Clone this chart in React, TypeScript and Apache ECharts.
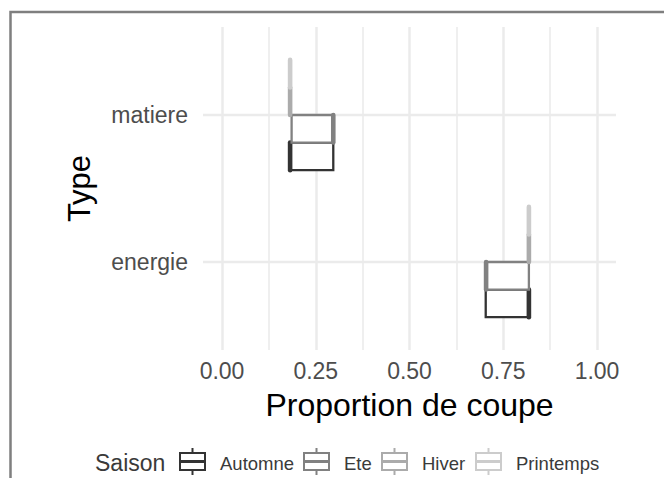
import React, { useEffect, useRef } from "react";
import * as echarts from "echarts";

const FONT = "'Liberation Sans', Arial, Helvetica, sans-serif";

// Categories
const types = ["energie", "matiere"];
const seasons = ["Automne", "Ete", "Hiver", "Printemps"];
const seasonColors = ["#333333", "#818181", "#ABABAB", "#CCCCCC"];

// Box statistics per type (energie, matiere): [min, q1, median, q3, max]
const automne = [
  [0.703, 0.703, 0.818, 0.818, 0.818],
  [0.182, 0.182, 0.182, 0.297, 0.297],
];
const ete = [
  [0.704, 0.704, 0.704, 0.818, 0.818],
  [0.186, 0.186, 0.297, 0.297, 0.297],
];
const hiver = [
  [0.818, 0.818, 0.818, 0.818, 0.818],
  [0.182, 0.182, 0.182, 0.182, 0.182],
];
const printemps = [
  [0.818, 0.818, 0.818, 0.818, 0.818],
  [0.182, 0.182, 0.182, 0.182, 0.182],
];
const seasonStats = [automne, ete, hiver, printemps];

const xTicks = [0, 0.25, 0.5, 0.75, 1];

export default function App() {
  const ref = useRef<HTMLDivElement>(null);

  useEffect(() => {
    if (!ref.current) return;
    const chart = echarts.init(ref.current, null, { renderer: "svg" });

    const boxSeries = seasons.map((name, si) => ({
      name,
      type: "custom",
      xAxisIndex: 0,
      yAxisIndex: 0,
      z: 3 + si,
      encode: { x: [1, 2, 3, 4, 5], y: 0 },
      data: seasonStats[si].map((s, ti) => [ti, ...s]),
      renderItem: (params: any, api: any) => {
        const cat = api.value(0);
        const mn = api.value(1);
        const q1 = api.value(2);
        const md = api.value(3);
        const q3 = api.value(4);
        const mx = api.value(5);
        const center = api.coord([q1, cat]);
        const band = api.size([0, 1])[1];
        const w = (band * 0.75) / 4;
        const yc = center[1] + (1.5 - si) * w;
        const px = (v: number) => api.coord([v, cat])[0];
        const color = seasonColors[si];
        const lw = 2.3;
        return {
          type: "group",
          children: [
            {
              type: "line",
              shape: { x1: px(mn), y1: yc, x2: px(q1), y2: yc },
              style: { stroke: color, lineWidth: lw },
            },
            {
              type: "line",
              shape: { x1: px(q3), y1: yc, x2: px(mx), y2: yc },
              style: { stroke: color, lineWidth: lw },
            },
            {
              type: "rect",
              shape: { x: px(q1), y: yc - w / 2, width: px(q3) - px(q1), height: w },
              style: { fill: "#ffffff", stroke: color, lineWidth: lw },
            },
            {
              type: "line",
              shape: { x1: px(md), y1: yc - w / 2, x2: px(md), y2: yc + w / 2 },
              style: { stroke: color, lineWidth: lw * 2, lineCap: "round" },
            },
          ],
        };
      },
    }));

    const gridLineSeries = {
      type: "custom",
      xAxisIndex: 0,
      yAxisIndex: 0,
      z: 1,
      silent: true,
      encode: { x: 0, y: 1 },
      data: types.map((_, i) => [0, i]),
      renderItem: (params: any, api: any) => {
        const y = api.coord([0, api.value(1)])[1];
        const cs = params.coordSys;
        return {
          type: "line",
          shape: { x1: cs.x, y1: y, x2: cs.x + cs.width, y2: y },
          style: { stroke: "#EBEBEB", lineWidth: 2.5 },
        };
      },
    };

    // Legend (graphic)
    const legendItems: any[] = [];
    const iconX = [180, 304, 382, 476];
    const textX = [220, 344, 422, 516];
    const iw = 25;
    seasons.forEach((s, i) => {
      const x0 = iconX[i];
      const c = seasonColors[i];
      legendItems.push(
        {
          type: "line",
          shape: { x1: x0 + iw / 2, y1: 448, x2: x0 + iw / 2, y2: 453 },
          style: { stroke: c, lineWidth: 2 },
        },
        {
          type: "line",
          shape: { x1: x0 + iw / 2, y1: 470, x2: x0 + iw / 2, y2: 475 },
          style: { stroke: c, lineWidth: 2 },
        },
        {
          type: "rect",
          shape: { x: x0, y: 453, width: iw, height: 17 },
          style: { fill: "#ffffff", stroke: c, lineWidth: 2 },
        },
        {
          type: "line",
          shape: { x1: x0, y1: 461.5, x2: x0 + iw, y2: 461.5 },
          style: { stroke: c, lineWidth: 3 },
        },
        {
          type: "text",
          x: textX[i],
          y: 463,
          style: {
            text: s,
            fill: "#3a3a3a",
            fontSize: 18.5,
            fontFamily: FONT,
            textAlign: "left",
            textVerticalAlign: "middle",
          },
        }
      );
    });

    const option: any = {
      animation: false,
      backgroundColor: "#ffffff",
      textStyle: { fontFamily: FONT },
      grid: [
        { left: 203, top: 41.5, width: 413, height: 294 },
        { left: 222, top: 27, width: 375, height: 323 },
      ],
      xAxis: [
        { gridIndex: 0, type: "value", min: -0.05, max: 1.05, show: false },
        {
          gridIndex: 1,
          type: "value",
          min: xTicks[0],
          max: xTicks[xTicks.length - 1],
          interval: 0.25,
          axisLine: { show: false },
          axisTick: { show: false },
          minorTick: { show: false, splitNumber: 2 },
          splitLine: { show: true, lineStyle: { color: "#EBEBEB", width: 2.5 } },
          minorSplitLine: { show: true, lineStyle: { color: "#EBEBEB", width: 1.6 } },
          axisLabel: {
            formatter: (v: number) => v.toFixed(2),
            color: "#4D4D4D",
            fontSize: 23,
            margin: 9,
            fontFamily: FONT,
          },
          name: "Proportion de coupe",
          nameLocation: "middle",
          nameGap: 39,
          nameTextStyle: { color: "#000000", fontSize: 32, fontFamily: FONT },
        },
      ],
      yAxis: [
        {
          gridIndex: 0,
          type: "category",
          data: types,
          axisLine: { show: false },
          axisTick: { show: false },
          splitLine: { show: false },
          axisLabel: { color: "#4D4D4D", fontSize: 23, margin: 15, fontFamily: FONT },
          name: "Type",
          nameLocation: "middle",
          nameRotate: 90,
          nameGap: 108,
          nameTextStyle: { color: "#000000", fontSize: 31, fontFamily: FONT },
        },
        { gridIndex: 1, type: "value", min: 0, max: 1, show: false },
      ],
      series: [gridLineSeries, ...boxSeries],
      graphic: [
        {
          type: "rect",
          z: -10,
          silent: true,
          shape: { x: 10.5, y: 12, width: 800, height: 600 },
          style: { fill: "none", stroke: "#7F7F7F", lineWidth: 2.5 },
        },
        {
          type: "text",
          x: 95,
          y: 463,
          style: {
            text: "Saison",
            fill: "#3a3a3a",
            fontSize: 23,
            fontFamily: FONT,
            textAlign: "left",
            textVerticalAlign: "middle",
          },
        },
        ...legendItems,
      ],
    };

    chart.setOption(option);
    return () => chart.dispose();
  }, []);

  return (
    <div
      ref={ref}
      style={{ position: "fixed", left: 0, top: 0, width: 664, height: 478 }}
    />
  );
}
